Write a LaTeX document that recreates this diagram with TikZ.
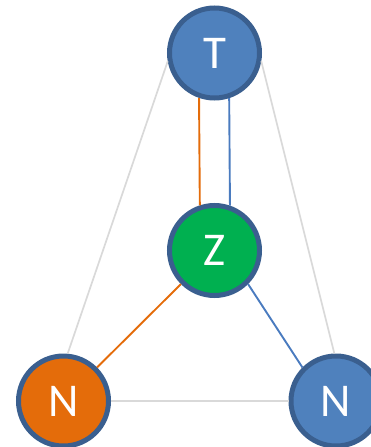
\documentclass[tikz,border=0pt]{standalone}
\usepackage{fontspec}
\setmainfont{Carlito}
\definecolor{ringc}{HTML}{3A5F8F}
\definecolor{bluef}{HTML}{4F81BD}
\definecolor{greenf}{HTML}{00B050}
\definecolor{orangef}{HTML}{E46C0A}
\definecolor{greyl}{HTML}{D9D9D9}
\definecolor{bluel}{HTML}{4A7BBF}
\begin{document}
\begin{tikzpicture}[x=1pt,y=-1pt,
  ball/.style={circle,draw=ringc,line width=5pt,minimum size=90pt,inner sep=0pt,
    text=white,font=\fontsize{47}{47}\selectfont},
  greyline/.style={draw=greyl,line width=1.7pt},
  orangeline/.style={draw=orangef,line width=1.9pt},
  blueline/.style={draw=bluel,line width=1.9pt}]
\useasboundingbox (0,0) rectangle (371,447);
\clip (0,0) rectangle (371,447);
\node[ball,fill=bluef] (T) at (214.5,53) {T};
\node[ball,fill=greenf] (Z) at (214.5,250.5) {Z};
\node[ball,fill=orangef] (NL) at (63.5,401) {N};
\node[ball,fill=bluef] (NR) at (336,401) {N};
\draw[greyline] (T.190) -- (NL.85);
\draw[greyline] (T.350) -- (NR.92);
\draw[greyline] (NL.east) -- (NR.west);
\draw[orangeline] (T.251.57) -- (Z.108.43);
\draw[blueline] (T.288.43) -- (Z.71.57);
\draw[orangeline] (Z.225) -- (NL.45);
\draw[blueline] (Z.315) -- (NR.135);
\end{tikzpicture}
\end{document}
